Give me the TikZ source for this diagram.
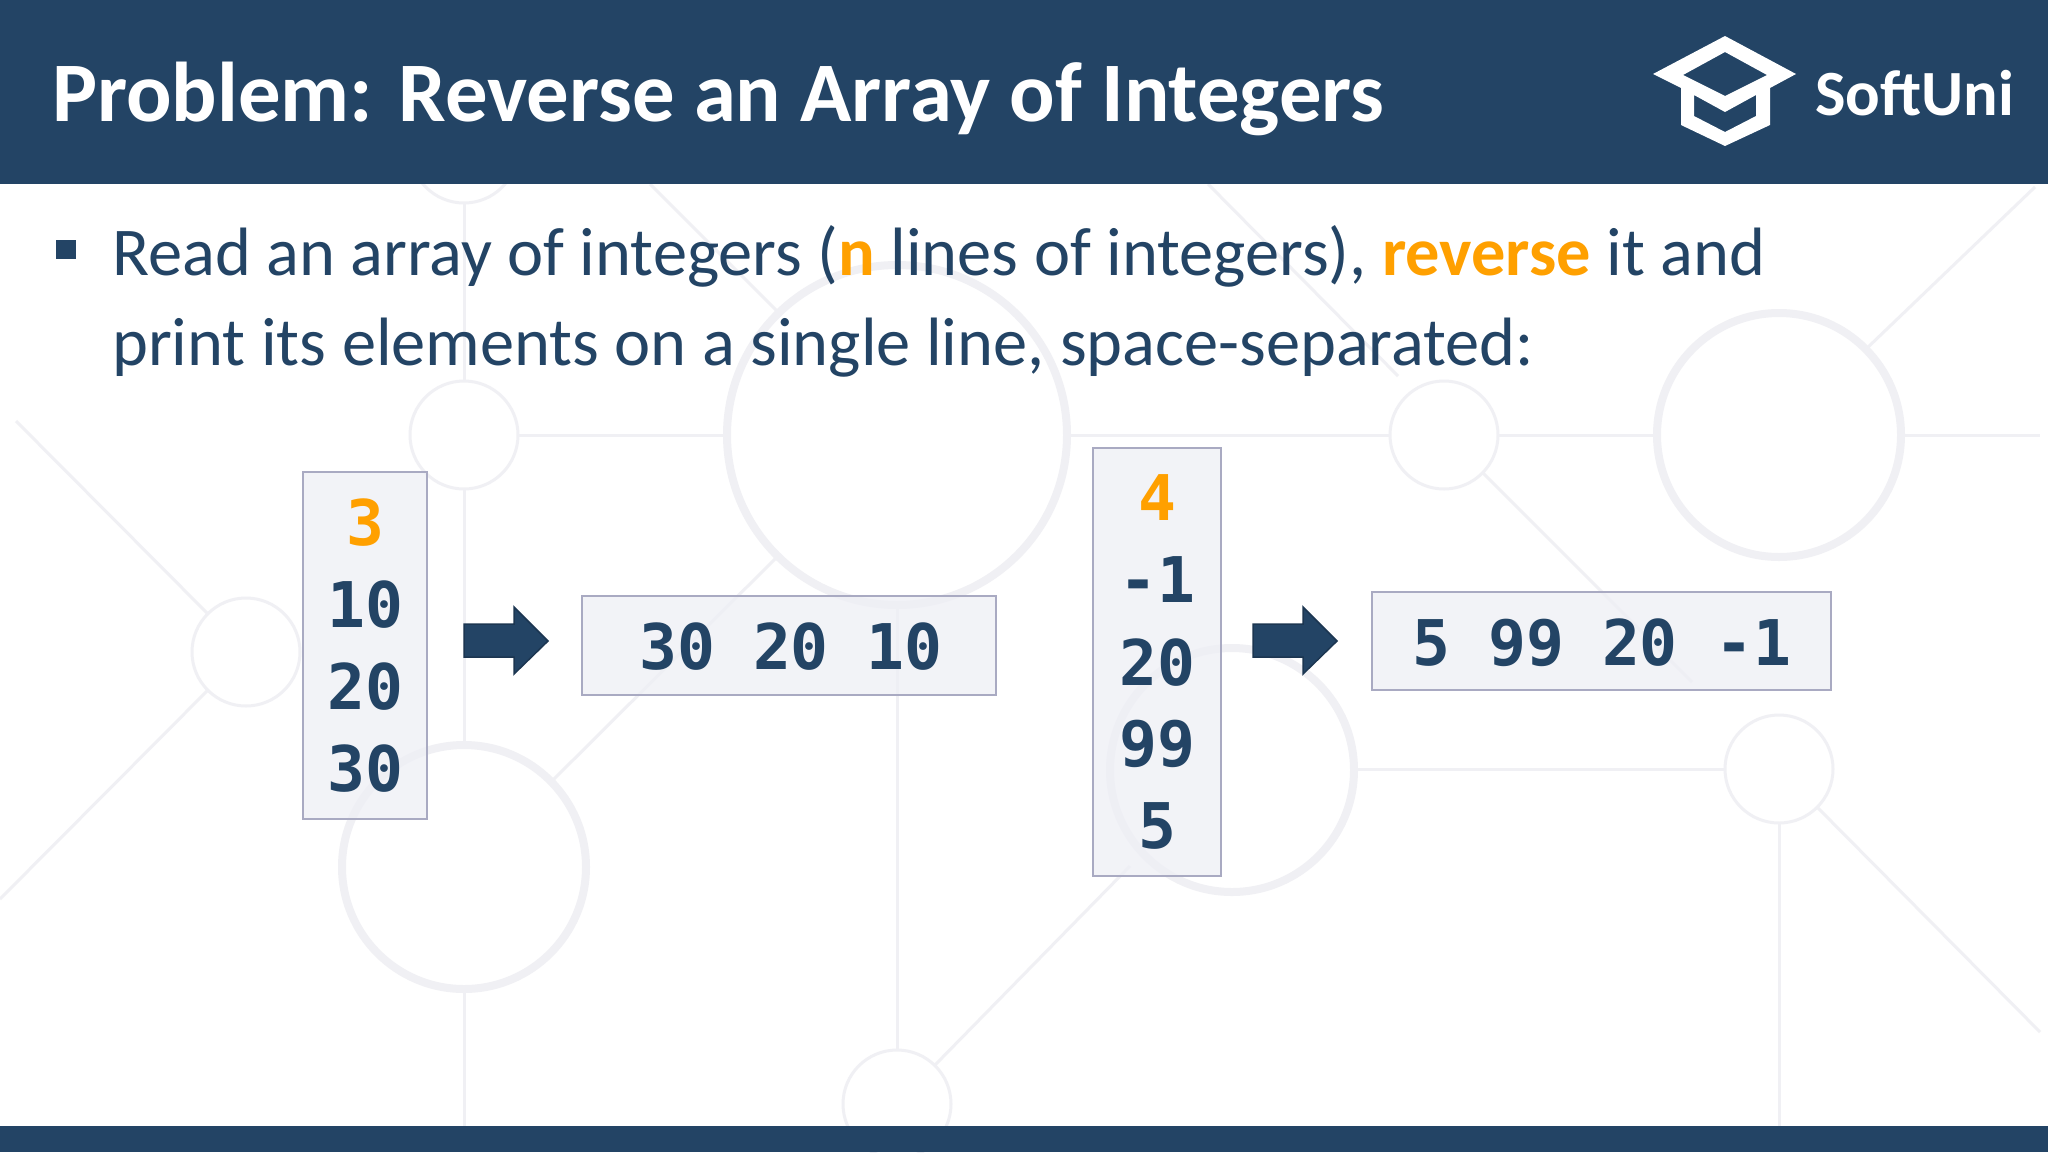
\documentclass[tikz,border=0pt]{standalone}
\usepackage{fontspec}
\usepackage{xcolor}
\setmainfont{Carlito}
\newfontfamily\codefont{DejaVu Sans Mono}
\definecolor{NavyBar}{HTML}{234465}
\definecolor{MarkOrange}{HTML}{FFA000}
\definecolor{BackLine}{HTML}{F0F0F4}
\definecolor{BoxFill}{HTML}{EEEFF5}
\definecolor{BoxLine}{HTML}{A9AAC2}
\tikzset{
	titletext/.style={anchor=base west, inner sep=0, white, font=\fontsize{84.75}{84.75}\selectfont\bfseries},
	logotext/.style={anchor=base west, inner sep=0, white, font=\fontsize{64.5}{64.5}\selectfont\bfseries},
	bodytext/.style={anchor=base west, inner sep=0, NavyBar, font=\fontsize{68.4}{68.4}\selectfont},
	numtext/.style={anchor=base, inner sep=0, NavyBar, font=\fontsize{63}{63}\selectfont\codefont\bfseries},
	numbox/.style={draw=BoxLine, line width=2pt, fill=BoxFill, fill opacity=0.75},
	bigarrow/.style={draw=NavyBar!80!black, line width=1.5pt, fill=NavyBar},
	backring/.style={draw=BackLine, line width=3pt},
	bigring/.style={draw=BackLine, line width=8pt},
	backwire/.style={draw=BackLine, line width=3pt}
}
\begin{document}
\begin{tikzpicture}[x=1pt, y=-1pt]
	\useasboundingbox (0,0) rectangle (2048,1152);
	\fill[white] (0,0) rectangle (2048,1152);

	% background network
	\foreach \cx/\cy in {464/149, 1171/124, 464/435, 1444/435, 246/652, 1779/769, 897/1104}
		\draw[backring] (\cx,\cy) circle(54);
	\foreach \cx/\cy/\rad in {897/435/170, 1779/435/122, 464/867/122, 1232/770/122}
		\draw[bigring] (\cx,\cy) circle(\rad);
	\foreach \xa/\ya/\xb/\yb in {464/203/464/381, 464/489/464/743, 464/991/464/1126,
		518/435/727/435, 1067/435/1390/435, 1498/435/1657/435, 1901/435/2040/435,
		897/605/897/1050, 1354/769/1725/769, 1779/823/1779/1126,
		16/421/208/614, 208/690/0/899, 650/184/780/314, 780/554/549/784,
		1130/866/935/1065, 1208/184/1398/376, 1483/473/1692/682,
		2035/187/1865/350, 1817/807/2040/1032}
		\draw[backwire] (\xa,\ya) -- (\xb,\yb);

	% header and footer
	\fill[NavyBar] (0,0) rectangle (2048,184);
	\fill[NavyBar] (0,1126) rectangle (2048,1152);
	\node[titletext] (title) at (52,121) {Problem: Reverse an Array of Integers};

	% logo
	\fill[white, even odd rule] (1725,36) -- (1796,74) -- (1770,88) -- (1770,125) -- (1725,146) -- (1681,125) -- (1681,88) -- (1653,74) -- cycle
		(1725,52) -- (1767,75) -- (1725,96) -- (1683,75) -- cycle
		(1694,95) -- (1725,112) -- (1756,95) -- (1756,116) -- (1725,132) -- (1694,116) -- cycle;
	\node[logotext] (logo) at (1815,115) {SoftUni};

	% bullet text
	\fill[NavyBar] (56,240) rectangle (76,259);
	\node[bodytext] (lineone) at (112,275) {Read an array of integers (\textcolor{MarkOrange}{\bfseries n} lines of integers), \textcolor{MarkOrange}{\bfseries reverse} it and};
	\node[bodytext] (linetwo) at (112,365) {print its elements on a single line, space-separated:};

	% arrows
	\foreach \ax in {464,1253}
		\draw[bigarrow, shift={(\ax,640)}] (0,-16) -- (50,-16) -- (50,-33) -- (84,1) -- (50,34) -- (50,17) -- (0,17) -- cycle;

	% first example
	\draw[numbox] (303,472) rectangle (427,819);
	\node[numtext, MarkOrange] (inAa) at (365,545) {3};
	\node[numtext] (inAb) at (365,627) {10};
	\node[numtext] (inAc) at (365,709) {20};
	\node[numtext] (inAd) at (365,791) {30};
	\draw[numbox] (582,596) rectangle (996,695);
	\node[numtext] (outA) at (791,669) {30 20 10};

	% second example
	\draw[numbox] (1093,448) rectangle (1221,876);
	\node[numtext, MarkOrange] (inBa) at (1157,520) {4};
	\node[numtext] (inBb) at (1157,602) {-1};
	\node[numtext] (inBc) at (1157,685) {20};
	\node[numtext] (inBd) at (1157,766) {99};
	\node[numtext] (inBe) at (1157,848) {5};
	\draw[numbox] (1372,592) rectangle (1831,690);
	\node[numtext] (outB) at (1602,665) {5 99 20 -1};
\end{tikzpicture}
\end{document}
